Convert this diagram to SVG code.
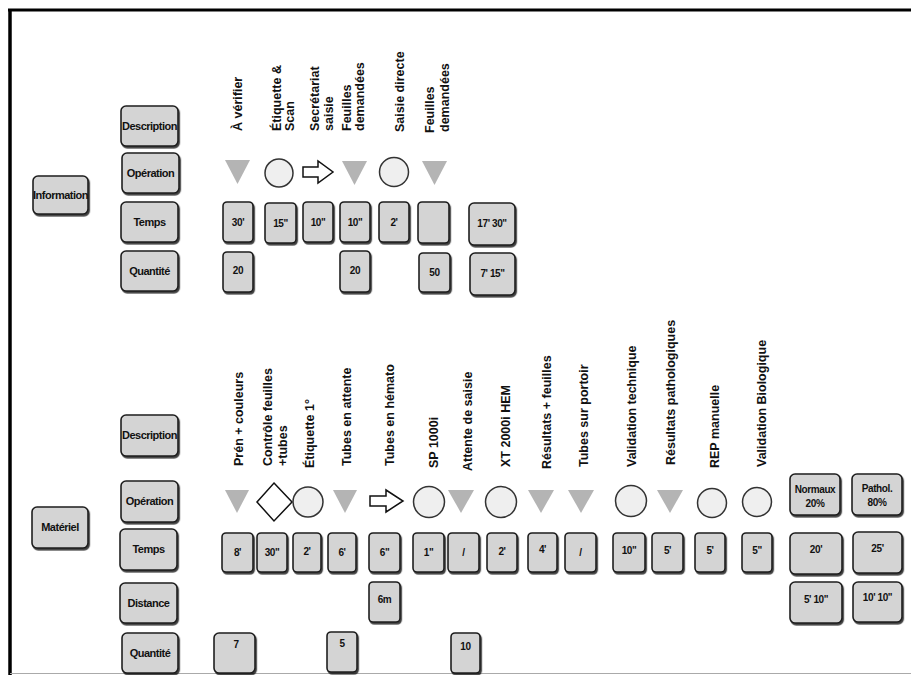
<svg xmlns="http://www.w3.org/2000/svg" width="911" height="675" viewBox="0 0 911 675">
<defs>
<filter id="sh" x="-20%" y="-20%" width="140%" height="150%">
<feDropShadow dx="1.2" dy="1.8" stdDeviation="0.6" flood-color="#000" flood-opacity="0.75"/>
</filter>
<style>
.bx rect{fill:#d4d4d4;stroke:#1e1e1e;stroke-width:1.6;filter:url(#sh)}
.lb{font-family:"Liberation Sans",Arial,sans-serif;font-weight:bold;font-size:11px;letter-spacing:-0.5px;text-anchor:middle;fill:#111}
.v{font-family:"Liberation Sans",Arial,sans-serif;font-weight:bold;font-size:10px;letter-spacing:-0.4px;text-anchor:middle;fill:#111}
.d{font-family:"Liberation Sans",Arial,sans-serif;font-weight:bold;font-size:12.5px;fill:#111}
.tri{fill:#b4b4b4}
.cir{fill:#efefef;stroke:#333;stroke-width:1.5}
.out{fill:#fff;stroke:#111;stroke-width:1.5}
</style>
</defs>
<rect x="0" y="0" width="911" height="675" fill="#fff"/>
<g id="frame">
<line x1="8" y1="10" x2="911" y2="10" stroke="#000" stroke-width="3"/>
<line x1="10" y1="9" x2="10" y2="675" stroke="#000" stroke-width="3.5"/>
<line x1="10" y1="673.5" x2="911" y2="673.5" stroke="#aaa" stroke-width="1"/>
</g>
<g id="connectors"/>

<!-- Information section labels -->
<g id="information" class="bx"><rect x="33" y="176" width="55" height="38" rx="5"/><text class="lb" x="60.5" y="199">Information</text></g>
<g id="info-description" class="bx"><rect x="121" y="106" width="57" height="40" rx="5"/><text class="lb" x="149.5" y="130">Description</text></g>
<g id="info-operation" class="bx"><rect x="122" y="153" width="57" height="40" rx="5"/><text class="lb" x="150.5" y="177">Opération</text></g>
<g id="info-temps" class="bx"><rect x="121" y="202" width="57" height="40" rx="5"/><text class="lb" x="149.5" y="226">Temps</text></g>
<g id="info-quantite" class="bx"><rect x="121" y="251" width="57" height="40" rx="5"/><text class="lb" x="149.5" y="275">Quantité</text></g>

<!-- Information descriptions -->
<g id="info-descriptions">
<text class="d" transform="translate(242,131) rotate(-90)">À vérifier</text>
<text class="d" transform="translate(281,131) rotate(-90)">Étiquette &amp;</text>
<text class="d" transform="translate(294,131) rotate(-90)">Scan</text>
<text class="d" transform="translate(319,131) rotate(-90)">Secrétariat</text>
<text class="d" transform="translate(333,131) rotate(-90)">saisie</text>
<text class="d" transform="translate(351,131) rotate(-90)">Feuilles</text>
<text class="d" transform="translate(364,131) rotate(-90)">demandées</text>
<text class="d" transform="translate(404,132) rotate(-90)">Saisie directe</text>
<text class="d" transform="translate(434,133) rotate(-90)">Feuilles</text>
<text class="d" transform="translate(449,132) rotate(-90)">demandées</text>
</g>

<!-- Information operations -->
<g id="info-op-1"><polygon class="tri" points="225,160 250,160 237.5,184"/></g>
<g id="info-op-2"><circle class="cir" cx="279" cy="173" r="14"/></g>
<g id="info-op-3"><path class="out" d="M303,167 L318,167 L318,161 L333,172 L318,183 L318,177 L303,177 Z"/></g>
<g id="info-op-4"><polygon class="tri" points="342,161 367,161 354.5,185"/></g>
<g id="info-op-5"><circle class="cir" cx="394" cy="172" r="14.5"/></g>
<g id="info-op-6"><polygon class="tri" points="422,161 447,161 434.5,185"/></g>

<!-- Information temps -->
<g id="info-t1" class="bx"><rect x="223" y="202" width="30" height="40" rx="4"/><text class="v" x="238" y="226">30'</text></g>
<g id="info-t2" class="bx"><rect x="265" y="203" width="31" height="40" rx="4"/><text class="v" x="280.5" y="227">15"</text></g>
<g id="info-t3" class="bx"><rect x="303" y="202" width="30" height="40" rx="4"/><text class="v" x="318" y="226">10"</text></g>
<g id="info-t4" class="bx"><rect x="340" y="202" width="30" height="40" rx="4"/><text class="v" x="355" y="226">10"</text></g>
<g id="info-t5" class="bx"><rect x="379" y="202" width="30" height="40" rx="4"/><text class="v" x="394" y="226">2'</text></g>
<g id="info-t6" class="bx"><rect x="418" y="202" width="31" height="41" rx="4"/></g>
<g id="info-t7" class="bx"><rect x="469" y="203" width="46" height="42" rx="5"/><text class="v" x="492" y="227">17' 30"</text></g>

<!-- Information quantite -->
<g id="info-q1" class="bx"><rect x="223" y="252" width="30" height="40" rx="4"/><text class="v" x="238" y="274">20</text></g>
<g id="info-q2" class="bx"><rect x="340" y="251" width="30" height="41" rx="4"/><text class="v" x="355" y="274">20</text></g>
<g id="info-q3" class="bx"><rect x="419" y="253" width="31" height="39" rx="4"/><text class="v" x="434.5" y="276">50</text></g>
<g id="info-q4" class="bx"><rect x="470" y="253" width="45" height="42" rx="5"/><text class="v" x="492.5" y="277">7' 15"</text></g>

<!-- Materiel section labels -->
<g id="materiel" class="bx"><rect x="32" y="507" width="56" height="41" rx="5"/><text class="lb" x="60" y="531">Matériel</text></g>
<g id="mat-description" class="bx"><rect x="121" y="415" width="57" height="41" rx="5"/><text class="lb" x="149.5" y="439">Description</text></g>
<g id="mat-operation" class="bx"><rect x="121" y="481" width="57" height="41" rx="5"/><text class="lb" x="149.5" y="505">Opération</text></g>
<g id="mat-temps" class="bx"><rect x="120" y="529" width="57" height="41" rx="5"/><text class="lb" x="148.5" y="553">Temps</text></g>
<g id="mat-distance" class="bx"><rect x="120" y="583" width="57" height="40" rx="5"/><text class="lb" x="148.5" y="607">Distance</text></g>
<g id="mat-quantite" class="bx"><rect x="122" y="633" width="56" height="40" rx="5"/><text class="lb" x="150" y="657">Quantité</text></g>

<!-- Materiel descriptions -->
<g id="mat-descriptions">
<text class="d" transform="translate(243,466) rotate(-90)">Prén + couleurs</text>
<text class="d" transform="translate(272,466) rotate(-90)">Contrôle feuilles</text>
<text class="d" transform="translate(287,466) rotate(-90)">+tubes</text>
<text class="d" transform="translate(314,468) rotate(-90)">Étiquette 1°</text>
<text class="d" transform="translate(351,466) rotate(-90)">Tubes en attente</text>
<text class="d" transform="translate(394,466) rotate(-90)">Tubes en hémato</text>
<text class="d" transform="translate(438,468) rotate(-90)">SP 1000i</text>
<text class="d" transform="translate(472,471) rotate(-90)">Attente de saisie</text>
<text class="d" transform="translate(510,467) rotate(-90)">XT 2000i HEM</text>
<text class="d" transform="translate(551,469) rotate(-90)">Résultats + feuilles</text>
<text class="d" transform="translate(588,467) rotate(-90)">Tubes sur portoir</text>
<text class="d" transform="translate(636,467) rotate(-90)">Validation technique</text>
<text class="d" transform="translate(675,465) rotate(-90)">Résultats pathologiques</text>
<text class="d" transform="translate(719,468) rotate(-90)">REP manuelle</text>
<text class="d" transform="translate(766,467) rotate(-90)">Validation Biologique</text>
</g>

<!-- Materiel operations -->
<g id="mat-op-1"><polygon class="tri" points="225,490 249,490 237,513"/></g>
<g id="mat-op-2"><polygon class="out" points="274,483 292,502 274,521 257,502"/></g>
<g id="mat-op-3"><circle class="cir" cx="308" cy="502" r="15"/></g>
<g id="mat-op-4"><polygon class="tri" points="333,490 357,490 345,513"/></g>
<g id="mat-op-5"><path class="out" d="M370,496 L386,496 L386,490 L403,501 L386,512 L386,506 L370,506 Z"/></g>
<g id="mat-op-6"><circle class="cir" cx="429" cy="502" r="15.5"/></g>
<g id="mat-op-7"><polygon class="tri" points="448,490 474,490 461,513"/></g>
<g id="mat-op-8"><circle class="cir" cx="501" cy="502" r="15.5"/></g>
<g id="mat-op-9"><polygon class="tri" points="528,490 554,490 541,513"/></g>
<g id="mat-op-10"><polygon class="tri" points="568,490 594,490 581,513"/></g>
<g id="mat-op-11"><circle class="cir" cx="631" cy="501" r="15.5"/></g>
<g id="mat-op-12"><polygon class="tri" points="657,490 683,490 670,513"/></g>
<g id="mat-op-13"><circle class="cir" cx="712" cy="503" r="14.5"/></g>
<g id="mat-op-14"><circle class="cir" cx="757" cy="502" r="14.5"/></g>
<g id="mat-normaux" class="bx"><rect x="790" y="474" width="50" height="41" rx="5"/><text class="v" x="815" y="493">Normaux</text><text class="v" x="815" y="507">20%</text></g>
<g id="mat-pathol" class="bx"><rect x="852" y="474" width="50" height="41" rx="5"/><text class="v" x="877" y="492">Pathol.</text><text class="v" x="877" y="506">80%</text></g>

<!-- Materiel temps -->
<g id="mat-t1" class="bx"><rect x="222" y="533" width="31" height="39" rx="4"/><text class="v" x="237.5" y="556">8'</text></g>
<g id="mat-t2" class="bx"><rect x="257" y="533" width="30" height="39" rx="4"/><text class="v" x="272" y="556">30"</text></g>
<g id="mat-t3" class="bx"><rect x="293" y="533" width="28" height="39" rx="4"/><text class="v" x="307" y="555">2'</text></g>
<g id="mat-t4" class="bx"><rect x="328" y="533" width="28" height="39" rx="4"/><text class="v" x="342" y="556">6'</text></g>
<g id="mat-t5" class="bx"><rect x="369" y="533" width="31" height="39" rx="4"/><text class="v" x="384.5" y="556">6"</text></g>
<g id="mat-t6" class="bx"><rect x="413" y="533" width="31" height="39" rx="4"/><text class="v" x="428.5" y="556">1"</text></g>
<g id="mat-t7" class="bx"><rect x="448" y="533" width="31" height="39" rx="4"/><text class="v" x="463.5" y="556">/</text></g>
<g id="mat-t8" class="bx"><rect x="487" y="533" width="30" height="39" rx="4"/><text class="v" x="502" y="555">2'</text></g>
<g id="mat-t9" class="bx"><rect x="528" y="533" width="29" height="39" rx="4"/><text class="v" x="542.5" y="553">4'</text></g>
<g id="mat-t10" class="bx"><rect x="565" y="533" width="31" height="39" rx="4"/><text class="v" x="580.5" y="556">/</text></g>
<g id="mat-t11" class="bx"><rect x="613" y="533" width="32" height="39" rx="4"/><text class="v" x="629" y="554">10"</text></g>
<g id="mat-t12" class="bx"><rect x="652" y="533" width="31" height="39" rx="4"/><text class="v" x="667.5" y="554">5'</text></g>
<g id="mat-t13" class="bx"><rect x="695" y="533" width="30" height="39" rx="4"/><text class="v" x="710" y="554">5'</text></g>
<g id="mat-t14" class="bx"><rect x="742" y="533" width="30" height="39" rx="4"/><text class="v" x="757" y="554">5"</text></g>
<g id="mat-t15" class="bx"><rect x="790" y="533" width="52" height="41" rx="5"/><text class="v" x="816" y="553">20'</text></g>
<g id="mat-t16" class="bx"><rect x="853" y="532" width="49" height="41" rx="5"/><text class="v" x="877.5" y="552">25'</text></g>

<!-- Materiel distance -->
<g id="mat-d1" class="bx"><rect x="369" y="582" width="31" height="40" rx="4"/><text class="v" x="384.5" y="603">6m</text></g>
<g id="mat-d2" class="bx"><rect x="790" y="582" width="52" height="41" rx="5"/><text class="v" x="816" y="603">5' 10"</text></g>
<g id="mat-d3" class="bx"><rect x="853" y="582" width="49" height="40" rx="5"/><text class="v" x="877.5" y="601">10' 10"</text></g>

<!-- Materiel quantite -->
<g id="mat-q1" class="bx"><rect x="214" y="633" width="41" height="40" rx="5"/><text class="v" x="236" y="648">7</text></g>
<g id="mat-q2" class="bx"><rect x="327" y="632" width="30" height="40" rx="4"/><text class="v" x="342" y="647">5</text></g>
<g id="mat-q3" class="bx"><rect x="451" y="633" width="29" height="40" rx="4"/><text class="v" x="465.5" y="650">10</text></g>
</svg>
